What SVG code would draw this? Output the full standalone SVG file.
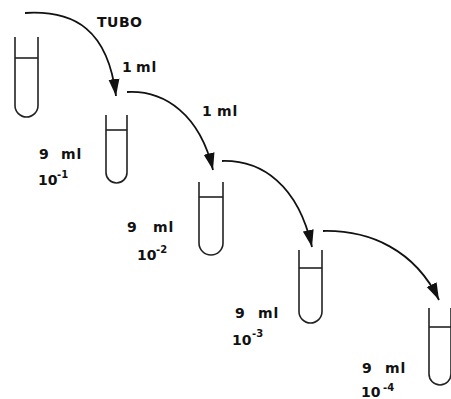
<svg xmlns="http://www.w3.org/2000/svg" width="451" height="399" viewBox="0 0 451 399">
  <style>
    .tube { fill: none; stroke: #222; stroke-width: 1.6; }
    .flow { fill: none; stroke: #111; stroke-width: 1.8; marker-end: url(#head); }
    .lbl { font-family: "DejaVu Sans", "Liberation Sans", sans-serif; font-weight: bold; font-size: 14px; fill: #111; }
    .sp { letter-spacing: 1px; }
    .sup { font-size: 10px; }
  </style>
  <defs>
    <marker id="head" markerUnits="userSpaceOnUse" markerWidth="20" markerHeight="12" refX="17" refY="5.5" orient="auto" viewBox="0 0 20 11">
      <path d="M0,0 L17,5.5 L0,11 z" fill="#111"/>
    </marker>
  </defs>
  <rect width="451" height="399" fill="#fff"/>

  <!-- transfer arrows -->
  <g id="connectors">
    <path class="flow" d="M25,13 C75,10 108,30 116,96"/>
    <path class="flow" d="M127,92 C165,90 200,115 213,170"/>
    <path class="flow" d="M222,161 C262,160 298,185 312,247"/>
    <path class="flow" d="M323,231 C370,230 415,250 439,300"/>
  </g>

  <!-- source tube -->
  <g id="tube0">
    <path class="tube" d="M15,37 V105.5 A11.5,11.5 0 0 0 38,105.5 V37"/>
    <line class="tube" x1="15" y1="58" x2="38" y2="58"/>
    <text class="lbl" x="97" y="27" font-size="15.5" letter-spacing="0.5">TUBO</text>
    <text class="lbl" y="72"><tspan x="122">1</tspan><tspan class="sp" x="136">ml</tspan></text>
  </g>

  <!-- dilution 10^-1 -->
  <g id="tube1">
    <path class="tube" d="M106,115 V172.5 A10.5,10.5 0 0 0 127,172.5 V115"/>
    <line class="tube" x1="106" y1="130" x2="127" y2="130"/>
    <text class="lbl" y="159"><tspan x="39">9</tspan><tspan class="sp" x="61">ml</tspan></text>
    <text class="lbl" y="185"><tspan x="38">10</tspan><tspan class="sup" x="57" y="178">-1</tspan></text>
    <text class="lbl" y="116"><tspan x="202">1</tspan><tspan class="sp" x="217">ml</tspan></text>
  </g>

  <!-- dilution 10^-2 -->
  <g id="tube2">
    <path class="tube" d="M199,182 V243 A12,12 0 0 0 223,243 V182"/>
    <line class="tube" x1="199" y1="197" x2="223" y2="197"/>
    <text class="lbl" y="232"><tspan x="127">9</tspan><tspan class="sp" x="153">ml</tspan></text>
    <text class="lbl" y="260"><tspan x="137">10</tspan><tspan class="sup" x="156" y="253">-2</tspan></text>
  </g>

  <!-- dilution 10^-3 -->
  <g id="tube3">
    <path class="tube" d="M299,250 V311.5 A11.5,11.5 0 0 0 322,311.5 V250"/>
    <line class="tube" x1="299" y1="268" x2="322" y2="268"/>
    <text class="lbl" y="318"><tspan x="235">9</tspan><tspan class="sp" x="258">ml</tspan></text>
    <text class="lbl" y="345"><tspan x="232">10</tspan><tspan class="sup" x="252" y="337">-3</tspan></text>
  </g>

  <!-- dilution 10^-4 -->
  <g id="tube4">
    <path class="tube" d="M429,308 V374 A11,11 0 0 0 451,374 V308"/>
    <line class="tube" x1="429" y1="327" x2="451" y2="327"/>
    <text class="lbl" y="373"><tspan x="362">9</tspan><tspan class="sp" x="385">ml</tspan></text>
    <text class="lbl" y="397"><tspan x="361">10</tspan><tspan class="sup" x="383" y="391">-4</tspan></text>
  </g>
</svg>
